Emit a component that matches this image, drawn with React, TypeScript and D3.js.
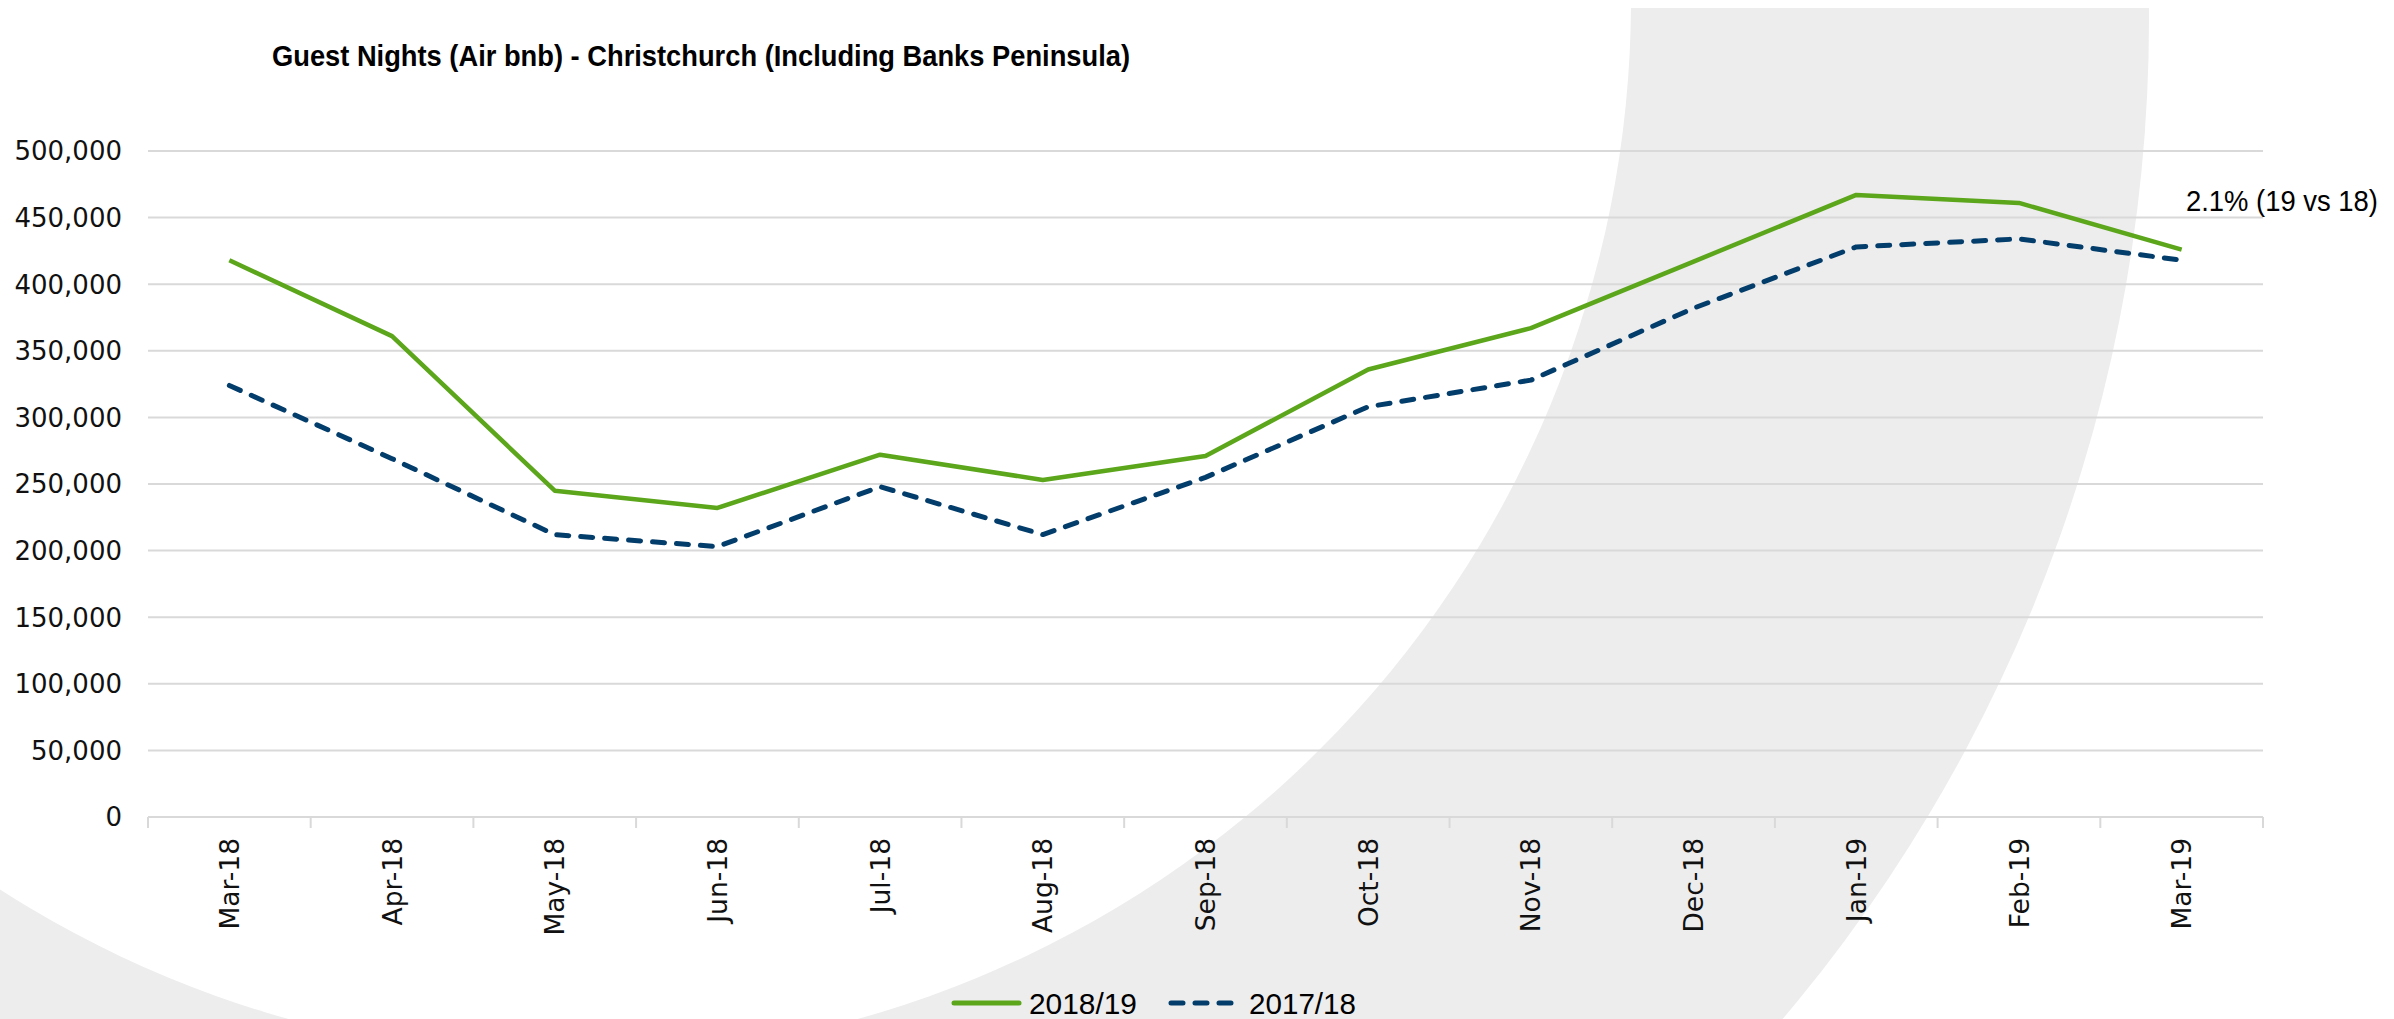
import React from "react";
import * as d3 from "d3";

const months = ["Mar-18","Apr-18","May-18","Jun-18","Jul-18","Aug-18","Sep-18","Oct-18","Nov-18","Dec-18","Jan-19","Feb-19","Mar-19"];
const nights2018_19 = [418000, 361000, 245000, 232000, 272000, 253000, 271000, 336000, 367000, 417000, 467000, 461000, 426000];
const nights2017_18 = [324000, 269000, 212000, 203000, 248000, 212000, 255000, 308000, 328000, 382000, 428000, 434000, 418000];
const yTicks = [0, 50000, 100000, 150000, 200000, 250000, 300000, 350000, 400000, 450000, 500000];
const seriesNames = ["2018/19", "2017/18"];
const titleText = "Guest Nights (Air bnb) - Christchurch (Including Banks Peninsula)";
const annotationText = "2.1% (19 vs 18)";

const W = 2394, H = 1019;
const GREEN = "#5ba61b";
const BLUE = "#033d6b";
const GRID = "#d9d9d9";
const BG = "#ededed";
const NARROW = "'Liberation Sans Narrow', 'Arial Narrow', 'Liberation Sans', sans-serif";
const WIDE = "'DejaVu Sans', Verdana, sans-serif";

export default function App() {
  const x = d3.scaleBand<string>().domain(months).range([148, 2263]);
  const y = d3.scaleLinear().domain([0, 500000]).range([817, 151]);
  const cx = (m: string) => (x(m) as number) + x.bandwidth() / 2;

  const line = d3.line<number>().x((_, i) => cx(months[i])).y((v) => y(v));
  const fmt = d3.format(",");

  const edges = months.map((m) => x(m) as number).concat([2263]);

  return (
    <svg width={W} height={H} style={{ position: "absolute", left: 0, top: 0, display: "block", background: "#fff" }}>
      <defs>
        <clipPath id="bgclip">
          <rect x={0} y={8} width={W} height={H - 8} />
        </clipPath>
      </defs>
      <rect x={0} y={0} width={W} height={H} fill="#fff" />
      {/* decorative background band */}
      <g clipPath="url(#bgclip)">
        <circle cx={601} cy={19} r={1548} fill={BG} />
        <circle cx={573} cy={0} r={1058} fill="#fff" />
      </g>

      {/* gridlines */}
      {yTicks.map((t) => (
        <line key={t} x1={148} x2={2263} y1={y(t)} y2={y(t)} stroke={GRID} strokeWidth={2} />
      ))}
      {/* x ticks */}
      {edges.map((e, i) => (
        <line key={i} x1={e} x2={e} y1={y(0)} y2={y(0) + 11} stroke={GRID} strokeWidth={2} />
      ))}

      {/* y labels */}
      {yTicks.map((t) => (
        <text key={t} x={122} y={y(t)} dy="0.36em" textAnchor="end" fontFamily={WIDE} fontSize={26} fill="#111">
          {fmt(t)}
        </text>
      ))}

      {/* x labels */}
      {months.map((m) => (
        <text
          key={m}
          transform={`translate(${cx(m)},838) rotate(-90)`}
          dy="0.36em"
          textAnchor="end"
          fontFamily={WIDE}
          fontSize={26.5}
          fill="#111"
        >
          {m}
        </text>
      ))}

      {/* series */}
      <path d={line(nights2017_18) as string} fill="none" stroke={BLUE} strokeWidth={5} strokeDasharray="12,12" strokeLinecap="round" strokeLinejoin="round" />
      <path d={line(nights2018_19) as string} fill="none" stroke={GREEN} strokeWidth={4.5} strokeLinejoin="round" />

      {/* title */}
      <text x={272} y={66} fontFamily={NARROW} fontWeight="bold" fontSize={29} textLength={858} lengthAdjust="spacingAndGlyphs" fill="#000">
        {titleText}
      </text>

      {/* annotation */}
      <text x={2186} y={211} fontFamily={NARROW} fontSize={29} textLength={192} lengthAdjust="spacingAndGlyphs" fill="#000">
        {annotationText}
      </text>

      {/* legend */}
      <line x1={954} x2={1019} y1={1003} y2={1003} stroke={GREEN} strokeWidth={5} strokeLinecap="round" />
      <text x={1029} y={1014} fontFamily={NARROW} fontSize={30} textLength={108} lengthAdjust="spacingAndGlyphs" fill="#000">
        {seriesNames[0]}
      </text>
      <line x1={1171} x2={1231} y1={1003} y2={1003} stroke={BLUE} strokeWidth={5} strokeDasharray="12,12" strokeLinecap="round" />
      <text x={1249} y={1014} fontFamily={NARROW} fontSize={30} textLength={107} lengthAdjust="spacingAndGlyphs" fill="#000">
        {seriesNames[1]}
      </text>
    </svg>
  );
}
